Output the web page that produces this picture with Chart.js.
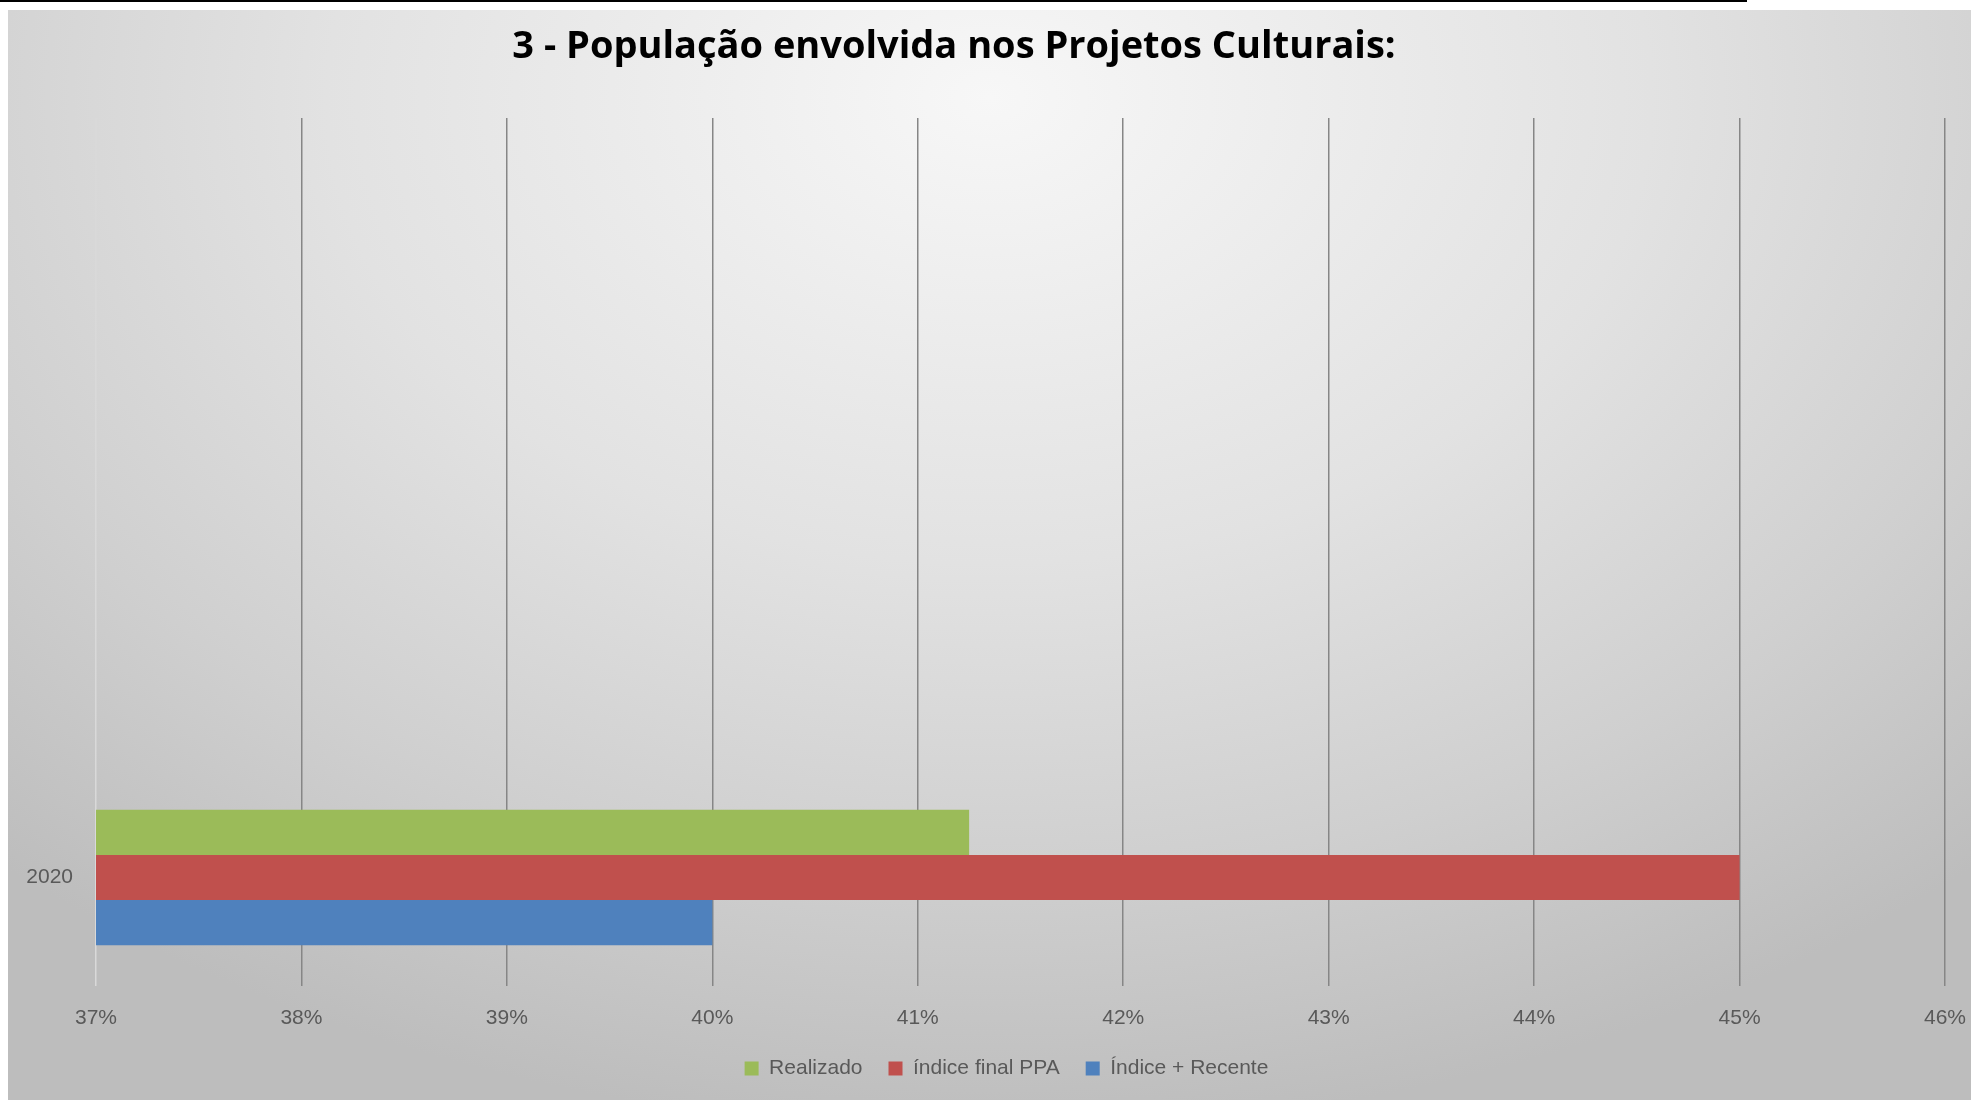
<!DOCTYPE html>
<html>
<head>
<meta charset="utf-8">
<script src="https://cdn.jsdelivr.net/npm/chart.js@4"></script>
<style>
  html, body { margin: 0; padding: 0; background: #fff; }
  #wrap { position: relative; width: 1971px; height: 1100px; overflow: hidden; }
  #topline { position: absolute; left: 0; top: 0; width: 1747px; height: 2px; background: #000; }
  #panel {
    position: absolute; left: 8px; top: 10px; right: 0; bottom: 0;
    background: radial-gradient(ellipse 75% 95% at 50% 8%, #f7f7f7 0%, #e2e2e2 45%, #cfcfcf 75%, #bdbdbd 100%);
  }
  canvas { position: absolute; left: 0; top: 0; }
</style>
</head>
<body>
<div id="wrap">
  <div id="topline"></div>
  <div id="panel"></div>
  <canvas id="chart" width="1971" height="1100"></canvas>
</div>
<script>
// categories top to bottom; only 2020 carries data
const categories = ['', '', '', '2020'];
const realizado = [null, null, null, 41.25];
const indiceFinalPPA = [null, null, null, 45];
const indiceRecente = [null, null, null, 40];
const xMin = 37, xMax = 46, xStep = 1;
const titleText = '3 - População envolvida nos Projetos Culturais:';

const tickColor = '#595959';
const baseFont = { family: '"Liberation Sans", Arial, sans-serif', size: 21 };

// title sits a little left of the panel centre, as in the source
const titlePlugin = {
  id: 'offTitle',
  afterDraw(chart) {
    const ctx = chart.ctx;
    ctx.save();
    ctx.font = 'bold 38px "Open Sans", sans-serif';
    ctx.fillStyle = '#000';
    ctx.textAlign = 'center';
    ctx.textBaseline = 'middle';
    ctx.fillText(titleText, 954, 47);
    ctx.restore();
  }
};

// nudge legend to the right
const legendShift = {
  id: 'legendShift',
  afterLayout(chart) {
    chart.legend.left += 30;
    chart.legend.right += 30;
  }
};

new Chart(document.getElementById('chart'), {
  type: 'bar',
  data: {
    labels: categories,
    datasets: [
      { label: 'Realizado', data: realizado, backgroundColor: '#9bbb59' },
      { label: 'índice final PPA', data: indiceFinalPPA, backgroundColor: '#c0504d' },
      { label: 'Índice + Recente', data: indiceRecente, backgroundColor: '#4f81bd' }
    ]
  },
  plugins: [titlePlugin, legendShift],
  options: {
    indexAxis: 'y',
    responsive: false,
    animation: false,
    categoryPercentage: 0.625,
    barPercentage: 1.0,
    layout: { padding: { left: 8, right: 26, top: 118, bottom: 11 } },
    plugins: {
      legend: {
        position: 'bottom',
        labels: {
          boxWidth: 14, boxHeight: 14, padding: 26,
          color: tickColor, font: baseFont
        }
      },
      tooltip: { enabled: false }
    },
    scales: {
      x: {
        min: xMin, max: xMax,
        ticks: {
          stepSize: xStep, color: tickColor, font: baseFont, padding: 20,
          callback: v => v + '%'
        },
        grid: {
          drawTicks: false,
          color: ctx => ctx.tick && ctx.tick.value === xMin ? '#d9d9d9' : '#868686',
          lineWidth: 1.5
        },
        border: { display: false },
        afterFit: s => { s.height = 46; s.paddingRight = 0; s.paddingLeft = 0; }
      },
      y: {
        ticks: { color: tickColor, font: baseFont, padding: 15 },
        grid: { display: false },
        border: { display: false },
        afterFit: s => { s.width = 88; s.paddingTop = 0; s.paddingBottom = 0; }
      }
    }
  }
});
</script>
</body>
</html>
